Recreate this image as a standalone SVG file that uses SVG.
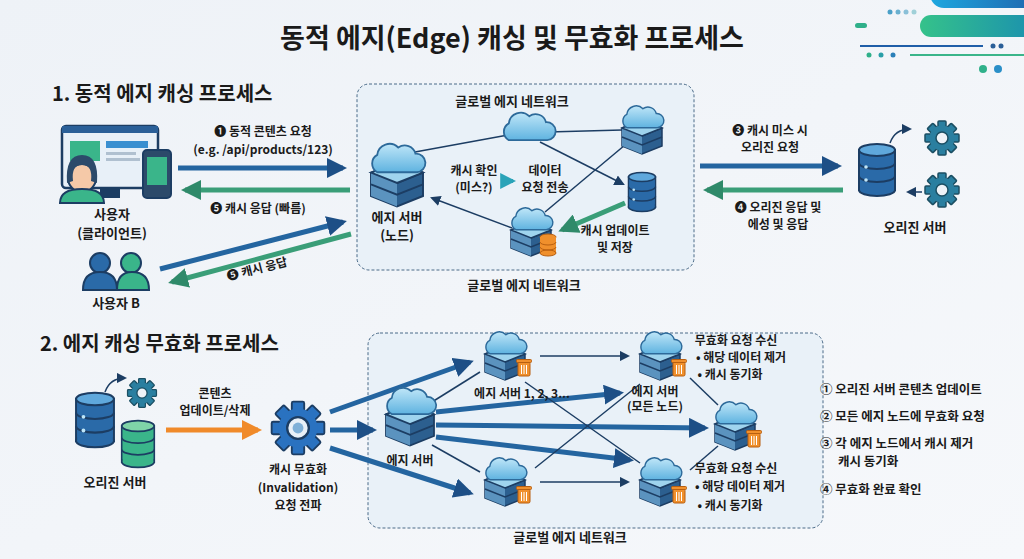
<svg xmlns="http://www.w3.org/2000/svg" width="1024" height="559" viewBox="0 0 1024 559">
<defs>
<linearGradient id="bg" x1="0" y1="0" x2="1" y2="1"><stop offset="0" stop-color="#eef2f7"/><stop offset="1" stop-color="#f6f8fb"/></linearGradient>
<linearGradient id="gb" x1="0" x2="1"><stop offset="0" stop-color="#1ea8e0"/><stop offset="1" stop-color="#1f5ea8"/></linearGradient>
<linearGradient id="gg" x1="0" x2="1"><stop offset="0" stop-color="#35c28a"/><stop offset="1" stop-color="#1a8fb0"/></linearGradient>
<linearGradient id="cl" x1="0" y1="0" x2="0" y2="1"><stop offset="0" stop-color="#bfe6f8"/><stop offset="1" stop-color="#5fb3e0"/></linearGradient>
<marker id="mb" viewBox="0 0 10 10" refX="8" refY="5" markerWidth="4" markerHeight="4" orient="auto-start-reverse"><path d="M0,0L10,5L0,10z" fill="#1d4f86"/></marker>
<marker id="mg" viewBox="0 0 10 10" refX="8" refY="5" markerWidth="4" markerHeight="4" orient="auto-start-reverse"><path d="M0,0L10,5L0,10z" fill="#2f8a6a"/></marker>
<marker id="mo" viewBox="0 0 10 10" refX="8" refY="5" markerWidth="4" markerHeight="4" orient="auto"><path d="M0,0L10,5L0,10z" fill="#f08a2a"/></marker>
<marker id="md" viewBox="0 0 10 10" refX="8" refY="5" markerWidth="7" markerHeight="7" orient="auto"><path d="M0,0L10,5L0,10z" fill="#1c3d63"/></marker>
<marker id="mt" viewBox="0 0 10 10" refX="8" refY="5" markerWidth="4" markerHeight="4" orient="auto"><path d="M0,0L10,5L0,10z" fill="#2aa3b8"/></marker>
<g id="cloud"><path d="M-16,6 a8,8 0 0 1 0-14 a10,10 0 0 1 17-6 a9,9 0 0 1 14,5 a7,7 0 0 1 1,15 z" fill="url(#cl)" stroke="#2d6a9a" stroke-width="1.5"/></g>
<g id="srv">
<path d="M-20,2 L0,-6 L20,2 L20,20 L0,28 L-20,20Z" fill="#2c5f8f" stroke="#1c3d63" stroke-width="1.5"/>
<path d="M-20,2 L0,10 L0,28 L-20,20Z" fill="#5b93bf"/>
<path d="M-20,11 L0,19 L20,11" fill="none" stroke="#1c3d63" stroke-width="1.5"/>
<path d="M0,10 L20,2" stroke="#1c3d63" stroke-width="1.5"/>
<path d="M-20,2 L0,-6 L20,2 L0,10Z" fill="#9fd4ee" stroke="#1c3d63" stroke-width="1.5"/>
<use href="#cloud" transform="translate(0,-4) scale(0.95)"/>
</g>
<g id="trash"><rect x="-6" y="-7" width="12" height="14" rx="1.5" fill="#f0902c" stroke="#b85f10"/><rect x="-7.5" y="-9.5" width="15" height="3" rx="1" fill="#f0902c" stroke="#b85f10"/><path d="M-2.5,-4V5M0,-4V5M2.5,-4V5" stroke="#fff" stroke-width="1"/></g>
<g id="db"><rect x="-18" y="-20" width="36" height="40" fill="#2a6aa8" stroke="#1c3d63" stroke-width="2"/><ellipse cx="0" cy="20" rx="18" ry="6" fill="#2a6aa8" stroke="#1c3d63" stroke-width="2"/><rect x="-17" y="-20" width="34" height="40" fill="#2a6aa8"/><path d="M-18,-7 a18,6 0 0 0 36,0 M-18,6 a18,6 0 0 0 36,0" fill="none" stroke="#1c3d63" stroke-width="2"/><ellipse cx="0" cy="-20" rx="18" ry="6" fill="#5fa8dc" stroke="#1c3d63" stroke-width="2"/><circle cx="-11" cy="-3" r="1.8" fill="#bfe6f8"/><circle cx="-11" cy="10" r="1.8" fill="#bfe6f8"/></g>
<g id="gear"><g fill="#2a7fa0" stroke="#1c4f63" stroke-width="1.5"><rect x="-4" y="-17" width="8" height="34" rx="1"/><rect x="-4" y="-17" width="8" height="34" rx="1" transform="rotate(45)"/><rect x="-4" y="-17" width="8" height="34" rx="1" transform="rotate(90)"/><rect x="-4" y="-17" width="8" height="34" rx="1" transform="rotate(135)"/><circle r="12.5" stroke="none"/></g><circle r="6" fill="#eef3f8" stroke="#1c4f63" stroke-width="1.5"/></g>
</defs>
<style>
text{font-family:"Noto Sans CJK KR","Noto Sans",sans-serif;fill:#1a1a1a;text-anchor:middle}
.t{font-size:27px;font-weight:700}
.h{font-size:20px;font-weight:700;text-anchor:start}
.l{font-size:13px;font-weight:700}
.s{font-size:12px;font-weight:700}
.r{font-size:12.5px;font-weight:700;text-anchor:start}
.box{fill:#e9f1f8;stroke:#4a6a88;stroke-dasharray:3 2;stroke-width:1}
.thin{stroke:#1c3d63;stroke-width:1.5;fill:none}
.bl{stroke:#2465a0;stroke-width:5;fill:none}
.gr{stroke:#3a9e78;stroke-width:5;fill:none}
</style>
<rect width="1024" height="559" fill="url(#bg)"/>
<g id="deco">
<rect x="930" y="-20" width="120" height="28" rx="14" fill="url(#gb)"/>
<rect x="920" y="15" width="120" height="22" rx="11" fill="url(#gg)"/>
<rect x="855" y="23" width="12" height="5" rx="2.5" fill="#2fb08a"/>
<path d="M860,46H983" stroke="#1f5ea8" stroke-width="2"/><path d="M910,55H1024" stroke="#3ab58a" stroke-width="2"/>
<circle cx="890" cy="12" r="2.5" fill="#4aa0c8"/><circle cx="898" cy="12" r="2.5" fill="#6ab0d0"/><circle cx="906" cy="12" r="2.5" fill="#8ac0d8"/><circle cx="914" cy="12" r="2.5" fill="#a0d0d8"/>
<circle cx="993" cy="46" r="2.5" fill="#2a5f98"/><circle cx="1001" cy="46" r="2.5" fill="#2a5f98"/>
<circle cx="869" cy="55" r="2.5" fill="#2fb08a"/><circle cx="881" cy="55" r="2.5" fill="#2a9fa8"/><circle cx="893" cy="55" r="2.5" fill="#2a7fb8"/>
<circle cx="983" cy="69" r="4" fill="#2fb08a"/><circle cx="998" cy="69" r="4" fill="#2a8fc8"/>
</g>
<text class="t" x="512" y="48">동적 에지(Edge) 캐싱 및 무효화 프로세스</text>
<text class="h" x="52" y="101">1. 동적 에지 캐싱 프로세스</text>
<text class="h" x="40" y="351">2. 에지 캐싱 무효화 프로세스</text>
<rect class="box" x="357" y="84" width="337" height="186" rx="12"/>
<rect class="box" x="368" y="333" width="455" height="195" rx="12"/>
<g id="connectors">
<line x1="415" y1="152" x2="508" y2="135" class="thin"/>
<line x1="548" y1="132" x2="622" y2="130" class="thin"/>
<line x1="540" y1="142" x2="623" y2="184" class="thin" marker-end="url(#md)"/>
<line x1="625" y1="145" x2="545" y2="212" class="thin"/>
<line x1="512" y1="228" x2="432" y2="198" class="thin" marker-end="url(#md)"/>
<line x1="625" y1="203" x2="562" y2="230" class="gr" marker-end="url(#mg)"/>
<line x1="506" y1="181" x2="513" y2="181" stroke="#2aa3b8" stroke-width="4" marker-end="url(#mt)"/>
<line x1="178" y1="168" x2="343" y2="168" class="bl" marker-end="url(#mb)"/>
<line x1="350" y1="190" x2="185" y2="190" class="gr" marker-end="url(#mg)"/>
<line x1="160" y1="269" x2="343" y2="222" class="bl" marker-end="url(#mb)"/>
<line x1="351" y1="234" x2="172" y2="282" class="gr" marker-end="url(#mg)"/>
<line x1="700" y1="166" x2="838" y2="166" class="bl" marker-end="url(#mb)"/>
<line x1="843" y1="190" x2="707" y2="190" class="gr" marker-end="url(#mg)"/>
<path d="M890,143 q5,-14 20,-14" class="thin" marker-end="url(#md)"/>
<path d="M922,192 H908" class="thin" marker-end="url(#md)"/>
<path d="M105,392 q5,-14 20,-14" class="thin" marker-end="url(#md)"/>
<line x1="166" y1="430" x2="258" y2="430" stroke="#f08a2a" stroke-width="5" marker-end="url(#mo)"/>
<line x1="330" y1="412" x2="470" y2="362" class="bl" marker-end="url(#mb)"/>
<line x1="330" y1="430" x2="373" y2="430" class="bl" marker-end="url(#mb)"/>
<line x1="330" y1="448" x2="470" y2="493" class="bl" marker-end="url(#mb)"/>
<line x1="436" y1="412" x2="620" y2="393" class="bl" marker-end="url(#mb)"/>
<line x1="436" y1="425" x2="705" y2="428" class="bl" marker-end="url(#mb)"/>
<line x1="436" y1="437" x2="630" y2="460" class="bl" marker-end="url(#mb)"/>
<line x1="540" y1="356" x2="628" y2="356" class="thin" marker-end="url(#md)"/>
<line x1="540" y1="482" x2="628" y2="482" class="thin" marker-end="url(#md)"/>
<line x1="432" y1="402" x2="480" y2="372" class="thin"/>
<line x1="432" y1="445" x2="480" y2="472" class="thin"/>
<line x1="525" y1="382" x2="640" y2="463" class="thin"/>
<line x1="535" y1="468" x2="640" y2="384" class="thin"/>
<line x1="690" y1="378" x2="718" y2="405" class="thin"/>
<line x1="690" y1="470" x2="718" y2="446" class="thin"/>
</g>
<g id="users">
<rect x="62" y="126" width="96" height="62" rx="4" fill="#e8f0f8" stroke="#1c3d63" stroke-width="2.5"/>
<rect x="62" y="126" width="96" height="7" fill="#2a5f98"/>
<rect x="70" y="141" width="30" height="20" fill="#3ab58a"/><rect x="106" y="141" width="42" height="7" fill="#3a8fd0"/>
<rect x="106" y="152" width="30" height="3" fill="#b0c0d0"/><rect x="106" y="158" width="34" height="3" fill="#b0c0d0"/>
<rect x="100" y="188" width="20" height="10" fill="#1c3d63"/>
<rect x="143" y="150" width="28" height="48" rx="4" fill="#2c4a6a" stroke="#1c3d63" stroke-width="2"/><rect x="147" y="157" width="20" height="28" fill="#3ab58a"/>
<circle cx="82" cy="178" r="14" fill="#f5c9a8" stroke="#1c3d63" stroke-width="2"/>
<path d="M67,183 q-2,-28 15,-28 q17,0 15,28 l-6,-2 q2,-16 -9,-16 q-11,0 -9,16z" fill="#2c4a6a"/>
<path d="M60,203 q0,-14 22,-14 q22,0 22,14z" fill="#3ab58a" stroke="#1c3d63" stroke-width="2"/>
<text class="l" x="112" y="219">사용자</text><text class="l" x="112" y="238">(클라이언트)</text>
<circle cx="100" cy="263" r="10" fill="#2a6aa8" stroke="#1c3d63" stroke-width="2"/>
<path d="M83,290 q0,-18 17,-18 q17,0 17,18z" fill="#2a6aa8" stroke="#1c3d63" stroke-width="2"/>
<circle cx="131" cy="263" r="10" fill="#3ab58a" stroke="#1c3d63" stroke-width="2"/>
<path d="M117,290 q0,-18 15,-18 q17,0 17,18z" fill="#3ab58a" stroke="#1c3d63" stroke-width="2"/>
<text class="l" x="116" y="308">사용자 B</text>
</g>
<g id="labels1">
<text class="s" x="263" y="136">❶ 동적 콘텐츠 요청</text>
<text class="s" x="263" y="154">(e.g. /api/products/123)</text>
<text class="s" x="258" y="213">❺ 캐시 응답 (빠름)</text>
<text class="s" transform="translate(258,273) rotate(-14)">❺ 캐시 응답</text>
<text class="l" x="512" y="106">글로벌 에지 네트워크</text>
<text class="l" x="524" y="290">글로벌 에지 네트워크</text>
<text class="s" x="474" y="175">캐시 확인</text><text class="s" x="474" y="192">(미스?)</text>
<text class="s" x="545" y="175">데이터</text><text class="s" x="545" y="192">요청 전송</text>
<text class="s" x="615" y="235">캐시 업데이트</text><text class="s" x="615" y="252">및 저장</text>
<text class="s" x="770" y="135">❸ 캐시 미스 시</text><text class="s" x="770" y="152">오리진 요청</text>
<text class="s" x="778" y="212">❹ 오리진 응답 및</text><text class="s" x="778" y="229">에성 및 응답</text>
</g>
<g id="edge1"><use href="#srv" transform="translate(397,170) scale(1.3)"/><text class="l" x="397" y="222">에지 서버</text><text class="l" x="397" y="240">(노드)</text></g>
<g id="cloud1"><use href="#cloud" transform="translate(528,133) scale(1.2)"/></g>
<g id="srvtr"><use href="#srv" transform="translate(642,126)"/></g>
<g id="db1"><use href="#db" transform="translate(642,192) scale(0.75)"/></g>
<g id="srvb"><use href="#srv" transform="translate(531,228)"/><g transform="translate(548,245)"><ellipse cx="0" cy="-8" rx="8" ry="3" fill="#f0902c" stroke="#b85f10"/><rect x="-8" y="-8" width="16" height="16" fill="#f0902c"/><ellipse cx="0" cy="8" rx="8" ry="3" fill="#f0902c" stroke="#b85f10"/><path d="M-8,-3a8,3 0 0 0 16,0M-8,2a8,3 0 0 0 16,0" fill="none" stroke="#b85f10"/></g></g>
<g id="origin1"><use href="#db" transform="translate(877,170)"/><use href="#gear" transform="translate(942,138)"/><use href="#gear" transform="translate(942,190)"/><text class="l" x="915" y="232">오리진 서버</text></g>
<g id="origin2"><use href="#db" transform="translate(95,420) scale(1.05)"/><g transform="translate(138,444) scale(0.9)"><rect x="-18" y="-20" width="36" height="40" fill="#3ab58a" stroke="#1c3d63" stroke-width="2"/><ellipse cx="0" cy="20" rx="18" ry="6" fill="#3ab58a" stroke="#1c3d63" stroke-width="2"/><rect x="-17" y="-20" width="34" height="40" fill="#3ab58a"/><path d="M-18,-7 a18,6 0 0 0 36,0 M-18,6 a18,6 0 0 0 36,0" fill="none" stroke="#1c3d63" stroke-width="2"/><ellipse cx="0" cy="-20" rx="18" ry="6" fill="#7fd4a8" stroke="#1c3d63" stroke-width="2"/></g><use href="#gear" transform="translate(142,393) scale(0.85)"/><text class="l" x="115" y="487">오리진 서버</text></g>
<text class="s" x="215" y="398">콘텐츠</text><text class="s" x="215" y="415">업데이트/삭제</text>
<g id="inval"><g transform="translate(298,428) scale(1.55)"><g fill="#2a72c0" stroke="#1c3d63" stroke-width="1.2"><rect x="-4" y="-17" width="8" height="34" rx="1"/><rect x="-4" y="-17" width="8" height="34" rx="1" transform="rotate(45)"/><rect x="-4" y="-17" width="8" height="34" rx="1" transform="rotate(90)"/><rect x="-4" y="-17" width="8" height="34" rx="1" transform="rotate(135)"/><circle r="12.5" stroke="none"/></g><circle r="7" fill="#e8f0f8" stroke="#1c3d63" stroke-width="1.5"/><circle r="3.5" fill="#7fb0d8"/></g>
<text class="s" x="298" y="474">캐시 무효화</text><text class="s" x="298" y="492">(Invalidation)</text><text class="s" x="298" y="510">요청 전파</text></g>
<g id="edge2"><use href="#srv" transform="translate(410,412) scale(1.2)"/><text class="s" x="410" y="465">에지 서버</text></g>
<g id="s1"><use href="#srv" transform="translate(505,352)"/><use href="#trash" transform="translate(524,369)"/><text class="s" x="522" y="398">에지 서버 1, 2, 3...</text></g>
<g id="s2"><use href="#srv" transform="translate(660,352)"/><use href="#trash" transform="translate(679,369)"/><text class="s" x="655" y="396">에지 서버</text><text class="s" x="655" y="411">(모든 노드)</text>
<text class="s" x="736" y="345">무효화 요청 수신</text><text class="s" x="741" y="362">• 해당 데이터 제거</text><text class="s" x="730" y="379">• 캐시 동기화</text></g>
<g id="s3"><use href="#srv" transform="translate(735,422)"/><use href="#trash" transform="translate(754,440)"/></g>
<g id="s4"><use href="#srv" transform="translate(505,478)"/><use href="#trash" transform="translate(524,496)"/></g>
<g id="s5"><use href="#srv" transform="translate(660,478)"/><use href="#trash" transform="translate(679,496)"/>
<text class="s" x="736" y="473">무효화 요청 수신</text><text class="s" x="740" y="491">• 해당 데이터 제거</text><text class="s" x="730" y="510">• 캐시 동기화</text></g>
<text class="l" x="570" y="542">글로벌 에지 네트워크</text>
<g id="steps">
<text class="r" x="820" y="394">① 오리진 서버 콘텐츠 업데이트</text>
<text class="r" x="820" y="421">② 모든 에지 노드에 무효화 요청</text>
<text class="r" x="820" y="448">③ 각 에지 노드에서 캐시 제거</text>
<text class="r" x="838" y="466">캐시 동기화</text>
<text class="r" x="820" y="494">④ 무효화 완료 확인</text>
</g>
</svg>
